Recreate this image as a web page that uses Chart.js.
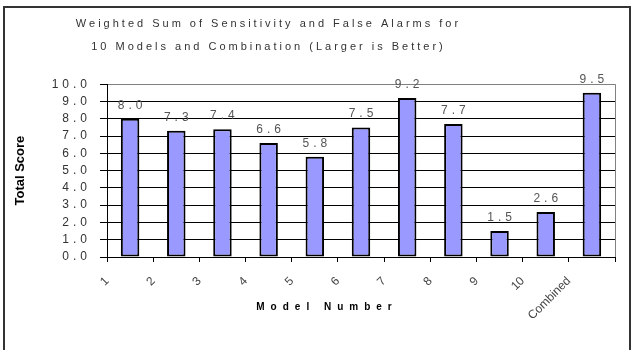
<!DOCTYPE html>
<html><head><meta charset="utf-8">
<script src="https://cdn.jsdelivr.net/npm/chart.js@4.4.0/dist/chart.umd.min.js"></script>
<style>html,body{margin:0;padding:0;background:#fff;overflow:hidden}#wrap{width:633px;height:350px;position:relative}</style>
</head><body><div id="wrap"><canvas id="c" width="633" height="350"></canvas></div>
<script>
const categories = ['1','2','3','4','5','6','7','8','9','10','Combined'];
const scores = [8.0, 7.3, 7.4, 6.6, 5.8, 7.5, 9.2, 7.7, 1.5, 2.6, 9.5];
const yTicks = [0, 1, 2, 3, 4, 5, 6, 7, 8, 9, 10];
const titleLines = ['Weighted Sum of Sensitivity and False Alarms for', '10 Models and Combination (Larger is Better)'];
const xTitle = 'Model Number';
const yTitle = 'Total Score';

Chart.defaults.font.family = "'Liberation Sans', Arial, sans-serif";

const spacingPlugin = {
  id: 'spacing',
  beforeDraw(chart) {
    const ctx = chart.ctx;
    if (!ctx._wrapped) {
      const orig = ctx.fillText;
      ctx.fillText = function (t, x, y, mw) {
        const s = String(t);
        let sp = 0, dx = 0;
        if (titleLines.includes(s)) { sp = 3; dx = -43; }
        else if (s === xTitle) { sp = 6; dx = -34; }
        else if (/^\d+\.\d$/.test(s)) { sp = 4; }
        const prev = this.letterSpacing;
        this.letterSpacing = sp + 'px';
        if (sp > 0 || mw === undefined) orig.call(this, s, x + dx, y);
        else orig.call(this, s, x, y, mw);
        this.letterSpacing = prev;
      };
      ctx._wrapped = true;
    }
    ctx.save();
    ctx.fillStyle = '#fff';
    ctx.fillRect(0, 0, chart.width, chart.height);
    ctx.restore();
  },
  afterDraw(chart) {
    const ctx = chart.ctx, a = chart.chartArea;
    ctx.save();
    ctx.strokeStyle = '#808080';
    ctx.lineWidth = 1;
    ctx.beginPath();
    ctx.moveTo(Math.round(a.right) + 0.5, a.top);
    ctx.lineTo(Math.round(a.right) + 0.5, a.bottom);
    ctx.stroke();
    ctx.strokeStyle = '#333';
    ctx.lineWidth = 2;
    ctx.strokeRect(4, 7, 626, 360);
    ctx.restore();
  }
};

const dataLabelPlugin = {
  id: 'dataLabels',
  afterDatasetsDraw(chart) {
    const ctx = chart.ctx;
    const meta = chart.getDatasetMeta(0);
    ctx.save();
    ctx.font = "12px 'Liberation Sans', Arial, sans-serif";
    ctx.fillStyle = '#555';
    ctx.textAlign = 'center';
    ctx.textBaseline = 'alphabetic';
    meta.data.forEach((bar, i) => {
      ctx.fillText(scores[i].toFixed(1), bar.x + 2, bar.y - 10);
    });
    ctx.restore();
  }
};

new Chart(document.getElementById('c'), {
  type: 'bar',
  data: {
    labels: categories,
    datasets: [{
      data: scores,
      backgroundColor: '#9999FF',
      borderColor: '#000',
      borderWidth: 2,
      borderSkipped: false,
      barPercentage: 0.4,
      categoryPercentage: 1.0
    }]
  },
  options: {
    responsive: false,
    devicePixelRatio: 1,
    animation: false,
    layout: { padding: { left: 8, right: 18, top: 0, bottom: 31 } },
    plugins: {
      legend: { display: false },
      tooltip: { enabled: false },
      title: {
        display: true,
        text: titleLines,
        color: '#333',
        font: { size: 11, weight: 'normal', lineHeight: 2.1 },
        padding: { top: 12, bottom: 26 }
      }
    },
    scales: {
      x: {
        type: 'category',
        offset: true,
        grid: { offset: true, drawOnChartArea: false, drawTicks: true, tickLength: 5, color: '#000' },
        border: { display: true, color: '#000', width: 1 },
        ticks: { minRotation: 45, maxRotation: 45, labelOffset: -23, color: '#444', font: { size: 12 }, padding: 12, autoSkip: false },
        title: { display: true, text: xTitle, color: '#000', font: { size: 10, weight: 'bold', lineHeight: 1.2 }, padding: { top: 0, bottom: 6 } },
        afterFit: s => { s.height = 62; }
      },
      y: {
        min: 0, max: 10,
        afterBuildTicks: s => { s.ticks = yTicks.map(v => ({ value: v })); },
        grid: {
          color: c => (c.tick && c.tick.value === 10) ? '#808080' : '#000',
          tickColor: '#000', tickLength: 7, lineWidth: 1
        },
        border: { display: true, color: '#000', width: 1 },
        ticks: { autoSkip: false, padding: 9, color: '#333', font: { size: 12 }, callback: v => Number(v).toFixed(1) },
        title: { display: true, text: yTitle, color: '#000', font: { size: 13, weight: 'bold', lineHeight: 1.2 }, padding: { top: 5, bottom: 0 } },
        afterFit: s => { s.width = 99; }
      }
    }
  },
  plugins: [spacingPlugin, dataLabelPlugin]
});
</script>
</body></html>
